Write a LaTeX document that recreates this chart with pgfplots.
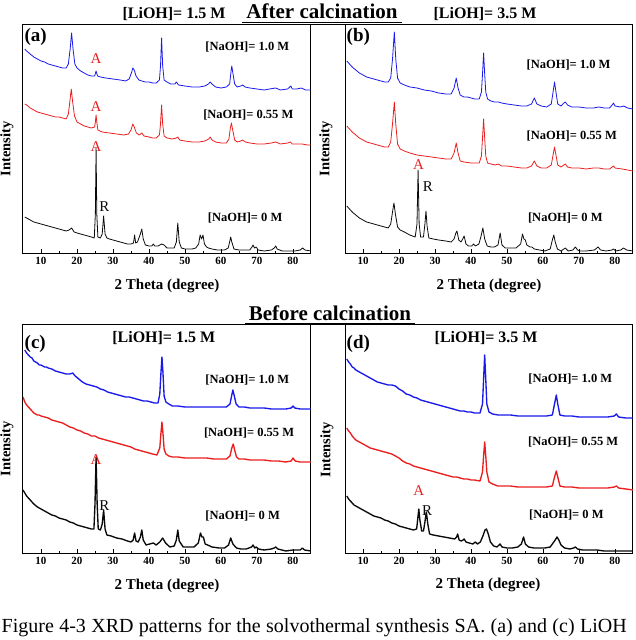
\documentclass[border=0pt]{standalone}
\usepackage{pgfplots}
\pgfplotsset{compat=1.18}
\usepackage{fontspec}
\setmainfont{Liberation Serif}

\definecolor{xrdblue}{RGB}{25,25,235}
\definecolor{xrdred}{RGB}{235,30,30}
\definecolor{xrdblack}{RGB}{10,10,10}

\newcommand{\fs}[1]{\fontsize{#1}{#1}\selectfont}

\pgfplotsset{
  xrdpanel/.style={
    scale only axis, width=288pt, height=229pt,
    anchor=south west,
    xmin=5, xmax=85, ymin=0, ymax=229,
    xtick={10,20,...,80}, minor xtick={15,25,...,75},
    ytick=\empty,
    tick align=inside, xtick pos=left,
    major tick length=5pt, minor tick length=3pt,
    axis line style={line width=1pt},
    every tick/.style={black, line width=0.9pt},
    /pgf/number format/assume math mode=true,
    ticklabel style={font=\fs{11}\bfseries},
    clip=true,
  },
}
\tikzset{
  calc/.style={line width=0.8pt, line join=round},
  raw/.style={line width=1.35pt, line join=round},
  naoh/.style={font=\fs{12.5}\bfseries, anchor=center},
  peakA/.style={font=\fs{15}, text=xrdred, anchor=base, inner sep=0pt},
  peakR/.style={font=\fs{15}, text=xrdblack, anchor=base, inner sep=0pt},
  panel/.style={font=\fs{19}\bfseries, anchor=center},
}

\begin{document}
\begin{tikzpicture}[x=1pt,y=1pt]
\path[use as bounding box] (0pt,0pt) rectangle (636pt,640pt);

% ---------------- (a) after calcination, [LiOH] = 1.5 M ----------------
\begin{axis}[xrdpanel, at={(23pt,386pt)}]
\addplot[xrdblue, calc] coordinates {
(5.5,205) (6,203) (7,200) (8,197) (9,195) (10,193) (11,192) (12,190) (13,189)
(14,188) (15,187) (16,186) (17,186) (17.6,190) (18.1,205) (18.5,221) (18.9,205)
(19.4,190) (20,186) (21,183) (22,181) (23,179) (24,178) (24.9,178) (25.3,183)
(25.7,178) (26.5,177) (28,176) (30,175) (32,174) (33.5,173) (34.5,175) (35.2,182)
(35.5,186) (35.9,184) (36.4,178) (37.2,174) (38,173) (39,172) (40,172) (41,171)
(42,171) (42.9,174) (43.2,188) (43.5,216) (43.8,188) (44.2,174) (45,172) (46,170)
(47.2,170) (47.6,172) (48.2,169) (50,168) (52,167) (54,167) (55.5,168) (56.5,170)
(57,172) (57.5,170) (58.5,167) (60,166) (61.5,167) (62.4,170) (62.8,183) (63.0,188)
(63.3,181) (63.8,170) (64.5,167) (65.5,168) (66,169) (66.7,167) (68,166) (70,165)
(72,164) (73.5,165) (75.2,166) (76.5,164) (78.5,165) (79.1,167) (79.4,168) (79.8,165)
(81,165) (82.3,166) (83.5,164) (85,164)
};
\addplot[xrdred, calc] coordinates {
(5.5,150) (6,149) (7,146) (8,144) (9,142) (10,141) (11,140) (12,139) (13,138)
(14,137) (15,137) (16,136) (17,135) (17.6,140) (18,152) (18.4,165) (18.8,152)
(19.3,138) (20,132) (21,130) (22,128) (23,127) (24,126) (24.9,127) (25.1,132)
(25.3,139) (25.5,132) (25.8,124) (27,122) (29,121) (31,120) (33,119) (34.3,120)
(35,124) (35.5,130) (35.9,127) (36.5,121) (37.3,119) (38,121) (38.6,118) (40,117)
(41,116) (42,116) (42.9,119) (43.2,130) (43.5,149) (43.8,130) (44.2,118) (45,116)
(46.5,115) (47.6,116) (48,117) (48.5,114) (50,113) (52,112) (54,112) (55.5,113)
(56.6,115) (57,117) (57.5,114) (58.5,112) (60,111) (61.5,111) (62.2,115) (62.6,126)
(62.9,131) (63.2,125) (63.8,114) (64.5,112) (65.5,113) (66,114) (66.8,112) (68,111)
(70,110) (72,110) (74,111) (75.2,112) (76.5,110) (78.5,111) (79.3,112) (79.8,110)
(81,110) (82.5,110) (84,109) (85,109)
};
\addplot[xrdblack, calc] coordinates {
(5.5,37) (6,36) (7,34) (8,32) (9,31) (10,30) (11,29) (12,28) (13,27) (14,26)
(15,25) (16,24) (17,23) (17.8,24) (18.5,26) (19.2,22) (20,21) (21,20) (22,19)
(23,18) (24,17) (24.8,16) (25.1,40) (25.3,106) (25.5,40) (25.8,17) (26.5,16)
(27,20) (27.4,38) (27.8,20) (28.3,16) (29,15) (30,14) (31,13) (32,12) (33,11)
(34,10) (35,10) (35.7,11) (36.0,19) (36.3,11) (36.8,12) (37.2,16) (37.6,20)
(38.0,25) (38.4,15) (39,9) (40,8) (40.8,8) (41.2,10) (41.6,8) (42.5,8) (43.5,10)
(44.2,9) (45,6) (46,6) (47,6) (47.6,12) (48,31) (48.4,12) (49,6) (50,5) (51,5)
(52,5) (53,6) (53.8,10) (54.2,19) (54.6,15) (55.0,19) (55.4,10) (56,7) (56.5,6)
(57.5,5) (59,4) (60,4) (61,4) (62,6) (62.4,12) (62.7,17) (63,12) (63.6,5) (65,4)
(66.5,4) (68,4) (68.6,7) (68.9,9) (69.3,6) (69.8,7) (70.3,4) (72,3) (74,4)
(74.8,6) (75.2,8) (75.6,5) (77,3) (79,3) (80.5,3) (82,4) (82.7,6) (83.3,4) (85,3)
};
\node[panel] at (axis cs:8.5,217) {(a)};
\node[naoh] at (axis cs:67.3,207) {[NaOH]= 1.0 M};
\node[naoh] at (axis cs:67.6,139) {[NaOH]= 0.55 M};
\node[naoh] at (axis cs:66.7,36) {[NaOH]= 0 M};
\node[peakA] at (axis cs:25.3,190) {A};
\node[peakA] at (axis cs:25.3,142) {A};
\node[peakA] at (axis cs:25.3,102) {A};
\node[peakR] at (axis cs:27.6,42) {R};
\end{axis}

% ---------------- (b) after calcination, [LiOH] = 3.5 M ----------------
\begin{axis}[xrdpanel, at={(345pt,386pt)}]
\addplot[xrdblue, calc] coordinates {
(5.5,193) (6,191) (7,187) (8,184) (9,181) (10,179) (11,177) (12,176) (13,175)
(14,174) (15,173) (16,172) (17,172) (17.7,176) (18.2,195) (18.7,222) (19.1,195)
(19.6,176) (20.3,171) (21.5,169) (23,167) (25,166) (27,164) (29,163) (31,161)
(33,160) (34.5,160) (35.3,166) (35.9,176) (36.4,166) (37,159) (38,157) (39,157)
(40,156) (41,155) (42.3,155) (42.9,162) (43.2,180) (43.5,201) (43.8,180) (44.1,162)
(44.6,155) (45.5,153) (46.5,152) (47.6,152) (48.5,151) (50,150) (52,149) (54,148)
(55.5,148) (56.8,150) (57.6,156) (58.3,150) (59.5,148) (61,147) (62.3,150) (62.8,162)
(63.2,172) (63.6,162) (64.1,150) (65,148) (65.8,151) (66.2,152) (66.8,149) (68,147)
(70,147) (72,146) (74,146) (75.5,147) (77,146) (78.5,146) (79.2,149) (79.6,151)
(80,148) (81.5,147) (82.4,148) (83.5,146) (85,145)
};
\addplot[xrdred, calc] coordinates {
(5.5,128) (6,126) (7,122) (8,119) (9,116) (10,114) (11,112) (12,111) (13,110)
(14,109) (15,108) (16,107) (17,107) (17.7,112) (18.2,130) (18.7,152) (19.1,130)
(19.6,110) (20.3,105) (21.5,103) (23,101) (25,99) (27,98) (29,97) (31,96) (33,95)
(34.5,95) (35.3,101) (35.9,111) (36.4,101) (37,93) (38,92) (40,91) (42.3,91)
(42.9,98) (43.2,116) (43.5,135) (43.8,116) (44.1,98) (44.6,91) (45.5,90) (46.7,89)
(47.6,90) (48.5,88) (50,88) (52,87) (54,86) (55.5,86) (56.8,88) (57.6,93) (58.3,88)
(59.5,86) (61,86) (62.3,89) (62.8,99) (63.2,107) (63.6,99) (64.1,89) (65,87)
(65.8,89) (66.2,90) (66.8,87) (68,86) (70,86) (72,85) (74,86) (75.5,86) (77,85)
(78.5,85) (79.2,87) (79.6,88) (80,86) (82,85) (83.5,84) (85,83)
};
\addplot[xrdblack, calc] coordinates {
(5.5,48) (6,46) (7,42) (8,39) (9,36) (10,34) (11,32) (12,31) (13,30) (14,29)
(15,28) (16,27) (17,26) (17.7,30) (18.2,42) (18.6,51) (19,40) (19.6,27) (20.3,24)
(21.5,22) (23,19) (24.5,17) (25,30) (25.3,84) (25.6,30) (26,17) (26.8,17) (27.2,30)
(27.5,43) (27.8,28) (28.3,16) (29.5,15) (31,14) (33,13) (34.5,12) (35.3,15)
(35.8,21) (36.1,23) (36.6,14) (37.2,12) (37.7,15) (38.1,18) (38.6,10) (39.3,8)
(40.2,8) (40.7,10) (41.2,8) (42.2,10) (42.8,18) (43.3,26) (43.8,15) (44.5,8)
(45.5,7) (46.5,7) (47.5,9) (48.1,21) (48.6,9) (49.5,6) (51,6) (52.5,6) (53.8,10)
(54.3,20) (54.7,15) (55.1,14) (55.5,9) (56.4,7) (56.9,7) (57.6,5) (59,4) (60.5,3)
(62,5) (62.6,14) (63,19) (63.4,12) (64,5) (65,3) (66.2,6) (67,3) (68.3,4) (69,7)
(69.6,4) (70.3,3) (72,3) (74.3,4) (75.3,7) (76,4) (77.5,3) (79.2,4) (79.6,5)
(80.2,3) (81.6,4) (82.4,6) (83.2,4) (85,3)
};
\node[panel] at (axis cs:8.7,217) {(b)};
\node[naoh] at (axis cs:67.1,189) {[NaOH]= 1.0 M};
\node[naoh] at (axis cs:68,118) {[NaOH]= 0.55 M};
\node[naoh] at (axis cs:66.2,36) {[NaOH]= 0 M};
\node[peakA] at (axis cs:25.4,84) {A};
\node[peakR] at (axis cs:28,62) {R};
\end{axis}

% ---------------- (c) before calcination, [LiOH] = 1.5 M ----------------
\begin{axis}[xrdpanel, at={(23pt,86pt)}]
\addplot[xrdblue, raw] coordinates {
(5.5,204) (6,201) (6.5,199) (7,197) (7.5,196) (8,193) (8.5,192) (9,191) (9.5,189)
(10,189) (10.5,188) (11,187) (11.5,187) (12,186) (13,185) (14,183) (15,182)
(16,181) (17,180) (18,180) (18.8,181) (19.5,178) (20.5,175) (21.5,172) (22.5,170)
(23.5,169) (24.5,168) (25.5,167) (26.5,165) (27.5,164) (28.5,162) (29.5,161)
(30.5,160) (31.5,159) (32.5,158) (33.5,157) (34.5,157) (35.5,156) (36.5,155)
(37.5,154) (38.5,153) (39.5,153) (40.5,152) (41.5,151) (42.5,151) (43.0,160)
(43.3,180) (43.6,197) (43.9,180) (44.2,158) (44.7,152) (45.5,150) (46.5,148)
(48,148) (50,147) (52,147) (54,147) (56,147) (58,147) (60,147) (61.5,147)
(62.5,150) (63.0,159) (63.3,164) (63.7,158) (64.2,150) (65,147) (66.5,147)
(68,146) (70,146) (72,146) (74,145) (76,145) (78,145) (79.5,146) (80,148)
(80.5,146) (82,145) (83.5,145) (85,145)
};
\addplot[xrdred, raw] coordinates {
(5,157) (5.5,152) (6,149) (6.5,147) (7,145) (7.5,143) (8,141) (8.5,140) (9,139)
(9.5,139) (10,138) (11,137) (12,136) (13,134) (14,133) (15,132) (16,131) (17,129)
(18,127) (19,126) (20,124) (21,123) (22,121) (23,120) (24,118) (25,118) (26,116)
(27,115) (28,114) (29,113) (30,112) (31,111) (32,110) (33,109) (34,108) (35,107)
(36,105) (37,104) (38,103) (39,102) (40,101) (41,100) (42.2,99) (43.0,106)
(43.3,120) (43.6,132) (43.9,120) (44.2,105) (44.7,100) (45.5,98) (46.5,97) (48,97)
(50,96) (52,96) (54,96) (56,96) (58,95) (60,95) (61.5,95) (62.5,98) (63.0,106)
(63.4,110) (63.8,104) (64.3,97) (65,95) (66.5,95) (68,94) (70,94) (72,94) (74,93)
(76,93) (78,92) (79.5,93) (80,96) (80.6,93) (82,92) (83.5,92) (85,92)
};
\addplot[xrdblack, raw] coordinates {
(5,64) (5.5,61) (6,58) (6.5,56) (7,54) (7.5,52) (8,50) (9,47) (10,45) (11,43)
(12,41) (13,39) (14,38) (15,36) (16,35) (17,34) (18,32) (19,31) (20,29) (21,28)
(22,27) (23,26) (24,25) (24.7,25) (25.0,50) (25.3,97) (25.6,50) (25.9,25) (26.5,24)
(27.0,30) (27.4,44) (27.8,25) (28.3,19) (29.5,18) (31,16) (32.5,15) (34,13) (35,12)
(35.6,14) (36.0,21) (36.4,13) (37,12) (37.6,17) (38.0,24) (38.4,14) (39.2,9)
(40.2,10) (41.2,11) (42,9) (43,12) (43.8,16) (44.6,11) (45.8,7) (47,8) (47.6,14)
(48.0,24) (48.4,13) (49.5,7) (51,7) (52.5,7) (53.7,11) (54.3,21) (54.7,17) (55.1,17)
(55.6,10) (56.3,9) (57.5,7) (59.5,6) (61,6) (62.1,9) (62.7,16) (63.3,10) (64.3,6)
(65.5,5) (67,5) (68.5,7) (68.9,9) (69.4,6) (69.8,7) (70.4,5) (72,4) (74,5) (74.8,6)
(75.2,7) (75.8,5) (78,3) (80,4) (82,4) (82.6,6) (83.2,4) (85,3)
};
\node[panel] at (axis cs:8.4,210) {(c)};
\node[font=\fs{16}\bfseries, anchor=base] at (axis cs:44.1,211) {[LiOH]= 1.5 M};
\node[naoh] at (axis cs:67.3,174) {[NaOH]= 1.0 M};
\node[naoh] at (axis cs:67.8,121) {[NaOH]= 0.55 M};
\node[naoh] at (axis cs:66,38) {[NaOH]= 0 M};
\node[peakA] at (axis cs:25.3,89) {A};
\node[peakR] at (axis cs:27.6,43) {R};
\end{axis}

% ---------------- (d) before calcination, [LiOH] = 3.5 M ----------------
\begin{axis}[xrdpanel, at={(345pt,86pt)}]
\addplot[xrdblue, raw] coordinates {
(5.5,195) (6,192) (6.5,190) (7,187) (7.5,186) (8,184) (8.5,183) (9,182) (9.5,181)
(10,180) (11,178) (12,176) (13,174) (14,172) (15,171) (16,170) (17,169) (18,169)
(19,168) (20,165) (21,163) (22,160) (23,159) (24,157) (25,156) (26,154) (27,153)
(28,152) (29,151) (30,150) (31,149) (32,148) (33,147) (34,146) (35,145) (36,144)
(37,143) (38,143) (39,142) (40,142) (41,141) (42.5,141) (43.2,150) (43.5,175)
(43.8,199) (44.1,175) (44.4,150) (45,142) (46,140) (47.5,139) (49,139) (51,139)
(53,138) (55,138) (57,138) (59,138) (61,138) (62.6,139) (63.2,150) (63.7,159)
(64.1,150) (64.7,139) (66,138) (68,138) (70,137) (72,137) (74,137) (76,137)
(78,137) (79.8,138) (80.4,140) (81,137) (83,136) (85,136)
};
\addplot[xrdred, raw] coordinates {
(5.5,126) (6,123) (6.5,121) (7,118) (7.5,116) (8,114) (8.5,113) (9,112) (9.5,111)
(10,110) (11,108) (12,106) (13,105) (14,104) (15,103) (16,102) (17,101) (18,100)
(19,98) (20,96) (21,93) (22,91) (23,90) (24,88) (25,87) (26,86) (27,85) (28,84)
(29,83) (30,82) (31,81) (32,80) (33,79) (34,78) (35,77) (36,77) (37,76) (38,75)
(39,75) (40,74) (41,74) (42.5,73) (43.2,82) (43.5,98) (43.8,112) (44.1,98)
(44.4,82) (45,72) (46,70) (47.5,68) (49,68) (51,68) (53,67) (55,67) (57,67)
(59,67) (61,67) (62.6,68) (63.2,77) (63.7,83) (64.1,77) (64.7,68) (66,67) (68,67)
(70,66) (72,66) (74,66) (76,66) (78,66) (79.8,67) (80.4,68) (81,66) (83,65) (85,64)
};
\addplot[xrdblack, raw] coordinates {
(5.5,58) (6,55) (6.5,53) (7,51) (7.5,49) (8,48) (9,46) (10,44) (11,42) (12,40)
(13,38) (14,37) (15,36) (16,34) (17,33) (18,31) (19,30) (20,28) (21,27) (22,26)
(23,25) (24,24) (24.9,25) (25.2,35) (25.5,45) (25.8,34) (26.3,23) (26.8,23)
(27.2,32) (27.6,42) (28.0,30) (28.5,20) (29.5,19) (31,18) (32.5,17) (34,16)
(35.5,15) (36.0,17) (36.3,20) (36.7,14) (37.3,13) (37.8,14) (38.1,15) (38.6,12)
(39.5,11) (40.5,10) (41.2,12) (41.8,10) (42.6,12) (43.3,18) (43.9,24) (44.3,25)
(44.8,20) (45.4,12) (46.3,8) (47.2,7) (47.8,9) (48.1,10) (48.6,7) (50,6) (51.5,6)
(53,7) (54.0,10) (54.6,17) (55.1,10) (56,7) (57.5,6) (59,6) (60.5,6) (62,7)
(62.8,11) (63.4,14) (63.9,17) (64.4,14) (65,9) (66,6) (67.5,5) (68.5,6) (69,7)
(69.6,5) (71,4) (73,4) (75,4) (77,3) (79,3) (80.5,3) (82,3) (83.5,3) (85,3)
};
\node[panel] at (axis cs:8.7,210) {(d)};
\node[font=\fs{16}\bfseries, anchor=base] at (axis cs:44.2,211) {[LiOH]= 3.5 M};
\node[naoh] at (axis cs:67.6,175) {[NaOH]= 1.0 M};
\node[naoh] at (axis cs:68.4,112) {[NaOH]= 0.55 M};
\node[naoh] at (axis cs:66.5,39) {[NaOH]= 0 M};
\node[peakA] at (axis cs:25.5,58) {A};
\node[peakR] at (axis cs:27.8,38) {R};
\end{axis}

% frame lines bridging the gap between the panels
\draw[line width=1pt] (311pt,615pt) -- (345pt,615pt);
\draw[line width=1pt] (311pt,315pt) -- (345pt,315pt);

% headings
\node[font=\fs{16}\bfseries, anchor=base] at (174pt,621pt) {[LiOH]= 1.5 M};
\node[font=\fs{16}\bfseries, anchor=base] at (485pt,621pt) {[LiOH]= 3.5 M};
\node[font=\fs{21}\bfseries, anchor=base] at (322pt,621pt) {After calcination};
\draw[line width=1.1pt] (242pt,617.5pt) -- (402pt,617.5pt);
\node[font=\fs{21}\bfseries, anchor=base] at (330pt,319.5pt) {Before calcination};
\draw[line width=1.1pt] (245pt,316.5pt) -- (415pt,316.5pt);

% axis titles
\foreach \px/\py in {7/491, 326/491, 7/191, 327/190}
  \node[font=\fs{14.5}\bfseries, rotate=90, anchor=center] at (\px pt,\py pt) {Intensity};
\foreach \px/\py in {167/350, 489/350, 167/50, 488/51}
  \node[font=\fs{15}\bfseries, anchor=base] at (\px pt,\py pt) {2 Theta (degree)};

% caption line
\node[anchor=base west, inner sep=0pt, font=\fs{20}] at (1.5pt,8pt)
  {\makebox[625pt][s]{Figure 4-3 XRD patterns for the solvothermal synthesis SA. (a) and (c) LiOH}};
\end{tikzpicture}
\end{document}
